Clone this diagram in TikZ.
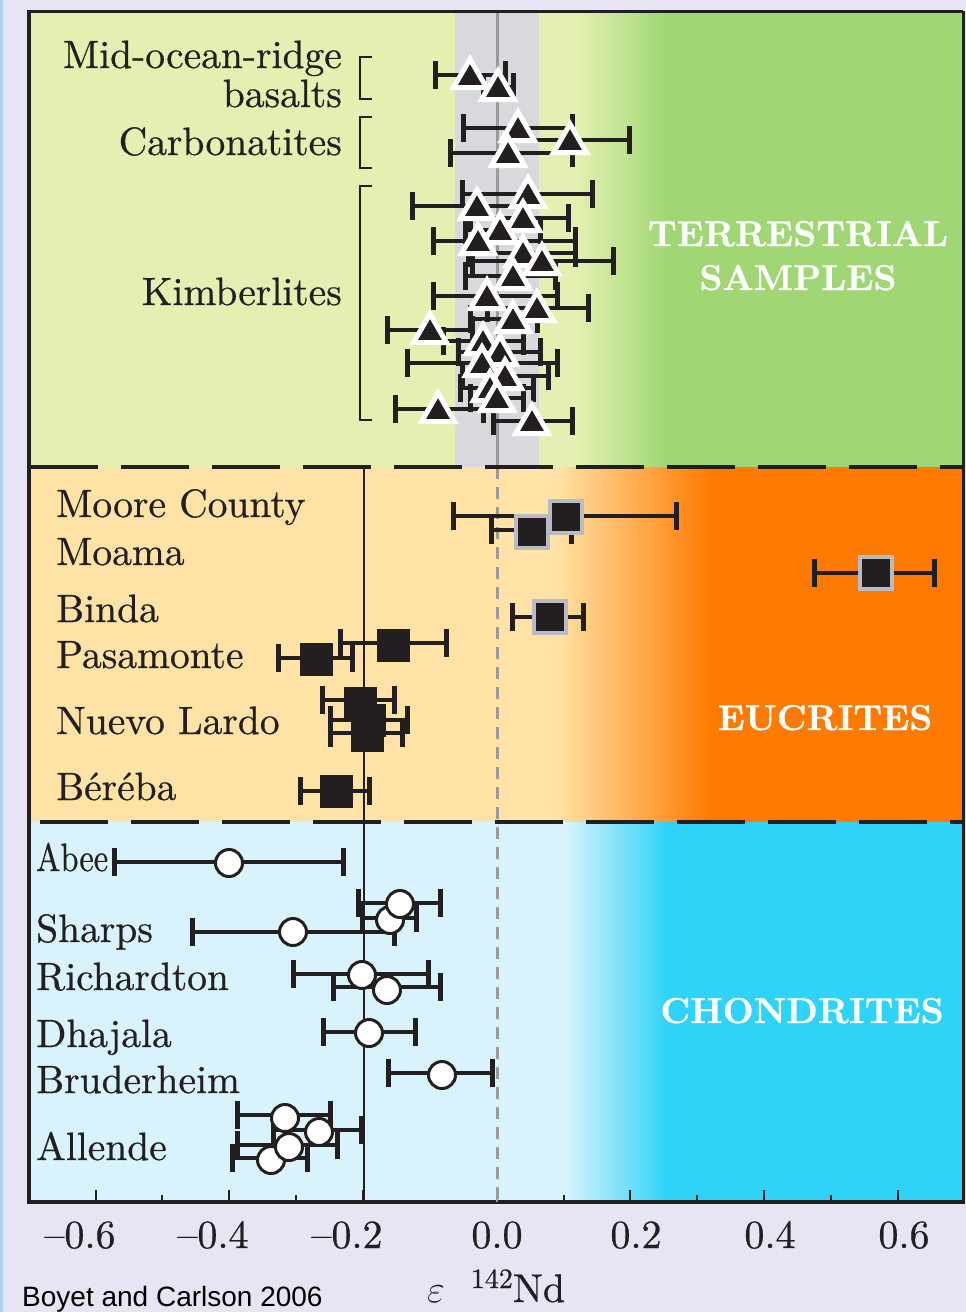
\documentclass[tikz,border=0pt]{standalone}
\usepackage{fontspec}
\newfontfamily\credfont{Liberation Sans}
\newfontfamily\lmh{lmroman10-regular.otf}[FakeBold=0.6,Ligatures=TeX]
\newfontfamily\lmb{lmroman10-bold.otf}[FakeBold=0.6,Ligatures=TeX]
\usetikzlibrary{shapes.geometric}
\definecolor{bgl}{HTML}{E7E5F3}
\definecolor{edgeblue}{HTML}{A9D3F5}
\definecolor{ink}{HTML}{231F20}
\definecolor{tlight}{HTML}{E3F0B1}
\definecolor{tdark}{HTML}{A0D774}
\definecolor{elight}{HTML}{FFE3A6}
\definecolor{edark}{HTML}{FF7A00}
\definecolor{clight}{HTML}{D9F3FD}
\definecolor{cdark}{HTML}{2FD3F7}
\definecolor{band}{HTML}{D8D9DC}
\definecolor{zline}{HTML}{9A9A9A}
\definecolor{sqborder}{HTML}{B8BCC2}
\begin{document}
\begin{tikzpicture}[x=1pt,y=-1pt,
  barst/.style={line width=4.5pt, ink},
  capst/.style={line width=5pt, ink},
  tri/.style={regular polygon, regular polygon sides=3, minimum size=38pt, inner sep=0pt, fill=ink, draw=white, line width=5pt},
  gsq/.style={rectangle, minimum size=32pt, inner sep=0pt, fill=ink, draw=sqborder, line width=4pt},
  bsq/.style={rectangle, minimum size=33pt, inner sep=0pt, fill=ink},
  circ/.style={circle, minimum size=27pt, inner sep=0pt, fill=white, draw=ink, line width=3pt},
  lab/.style={inner sep=0pt, text=ink, font=\lmh\fontsize{39.5}{42}\selectfont},
  big/.style={inner sep=0pt, text=white, font=\lmb\fontsize{36}{38}\selectfont},
  ticklab/.style={inner sep=0pt, text=ink, font=\lmh\fontsize{40}{42}\selectfont, anchor=base},
  bnd/.style={line width=4pt, ink, dash pattern=on 68pt off 23pt}
]
\useasboundingbox (0,0) rectangle (966,1312);
\fill[bgl] (0,0) rectangle (966,1312);
\fill[edgeblue] (0,0) rectangle (3,1312);

% terrestrial region
\fill[tlight] (29,11) rectangle (578,467);
\shade[left color=tlight, right color=tdark] (577,11) rectangle (666,467);
\fill[tdark] (665,11) rectangle (963,467);
\fill[band] (455,11) rectangle (539,467);
\draw[zline, line width=3pt] (497,11) -- (497,467);

% eucrites region
\fill[elight] (29,467) rectangle (556,822);
\shade[left color=elight, right color=edark] (555,467) rectangle (712,822);
\fill[edark] (711,467) rectangle (963,822);

% chondrites region
\fill[clight] (29,822) rectangle (566,1202);
\shade[left color=clight, right color=cdark] (565,822) rectangle (667,1202);
\fill[cdark] (666,822) rectangle (963,1202);

% reference lines
\draw[zline, line width=3pt, dash pattern=on 12pt off 8pt] (497,467) -- (497,1202);
\draw[ink, line width=2.5pt] (364,467) -- (364,1202);

% boundaries
\draw[bnd] (30,467) -- (963,467);
\draw[bnd] (40,822) -- (963,822);

% frame
\draw[ink, line width=3pt] (29,11) -- (963,11);
\draw[ink, line width=3pt] (963,11) -- (963,1202);
\draw[ink, line width=4pt] (29,9.5) -- (29,1204);
\draw[ink, line width=4pt] (27,1202) -- (965,1202);

% ticks
\foreach \x in {96,229,363,630,764,898} \draw[ink, line width=2.5pt] (\x,1202) -- (\x,1190);
\draw[zline, line width=2.5pt] (497,1202) -- (497,1190);
\foreach \x in {162,296,564,697,831} \draw[ink, line width=2pt] (\x,1202) -- (\x,1195);

% tick labels
\foreach \x/\t in {80/{–0.6},213/{–0.4},347/{–0.2},497/{0.0},636/{0.2},770/{0.4},904/{0.6}}
  \node[ticklab] (tl\x) at (\x,1248) {\t};

% axis title
\node[inner sep=0pt, anchor=base west, text=ink, font=\lmh\fontsize{40}{42}\selectfont] (axt) at (427,1302) {\scalebox{1.55}{$\varepsilon$}\hspace{26pt}\raisebox{14pt}{\fontsize{28}{30}\selectfont 142}Nd};
\node[inner sep=0pt, anchor=base west, text=black, font=\credfont\fontsize{28}{30}\selectfont] (cred) at (22,1306) {Boyet and Carlson 2006};

% terrestrial labels
\node[lab, anchor=base east] (morb1) at (342,68) {Mid-ocean-ridge};
\node[lab, anchor=base east] (morb2) at (342,107) {basalts};
\node[lab, anchor=base east] (carb) at (342,155) {Carbonatites};
\node[lab, anchor=base east] (kimb) at (342,305) {Kimberlites};
\draw[ink, line width=2.5pt] (372,57) -- (360,57) -- (360,99) -- (372,99);
\draw[ink, line width=2.5pt] (372,117) -- (360,117) -- (360,168) -- (372,168);
\draw[ink, line width=2.5pt] (372,186) -- (360,186) -- (360,420) -- (372,420);

\node[big, anchor=base] (ts1) at (798,246) {TERRESTRIAL};
\node[big, anchor=base] (ts2) at (798,290) {SAMPLES};
\node[big, anchor=base] (euc) at (825,730) {EUCRITES};
\node[big, anchor=base] (cho) at (802,1023) {CHONDRITES};

% eucrite labels
\node[lab, anchor=base west] (l1) at (56,517) {Moore County};
\node[lab, anchor=base west] (l2) at (56,565) {Moama};
\node[lab, anchor=base west] (l3) at (56,622) {Binda};
\node[lab, anchor=base west] (l4) at (56,668) {Pasamonte};
\node[lab, anchor=base west] (l5) at (56,734) {Nuevo Lardo};
\node[lab, anchor=base west] (l6) at (56,800) {Béréba};

% chondrite labels
\node[lab, anchor=base west] (c1) at (36,871) {\scalebox{0.82}[1]{Abee}};
\node[lab, anchor=base west] (c2) at (36,942) {Sharps};
\node[lab, anchor=base west] (c3) at (36,990) {Richardton};
\node[lab, anchor=base west] (c4) at (36,1047) {Dhajala};
\node[lab, anchor=base west] (c5) at (36,1093) {Bruderheim};
\node[lab, anchor=base west] (c6) at (36,1160) {Allende};

% terrestrial error bars
\foreach \cx/\cy/\l/\r in {
 470/75/435/505, 498/87/483/513,
 518/128/463/572, 570/140/512/629, 508/153/450/572,
 528/194/462/592, 477/206/412/520, 523/218/470/568, 500/230/465/540,
 478/241/433/575, 523/253/468/575, 542/261/472/613, 513/276/465/555,
 487/296/433/557, 537/308/487/588, 513/319/470/537, 430/330/387/472,
 483/341/443/523, 500/352/458/540, 482/363/407/557, 505/376/462/548,
 490/388/460/533, 497/398/470/523, 438/409/395/483, 532/421/493/572}{
  \draw[barst] (\l,\cy) -- (\r,\cy);
  \draw[capst] (\l,\cy-14) -- (\l,\cy+14);
  \draw[capst] (\r,\cy-14) -- (\r,\cy+14);
}
\foreach \cx/\cy [count=\i] in {
 470/75, 498/87, 518/128, 570/140, 508/153,
 528/194, 477/206, 523/218, 500/230, 478/241, 523/253, 542/261, 513/276,
 487/296, 537/308, 513/319, 430/330, 483/341, 500/352, 482/363, 505/376,
 490/388, 497/398, 438/409, 532/421}{
  \node[tri] (t\i) at (\cx,\cy+3) {};
}

% eucrite error bars
\foreach \cy/\l/\r in {530/491/571, 516/453/676, 573/814/934, 617/512/583,
 643/340/446, 658/278/352, 700/322/394, 720/330/407, 733/330/402, 791/300/369}{
  \draw[barst] (\l,\cy) -- (\r,\cy);
  \draw[capst] (\l,\cy-14) -- (\l,\cy+14);
  \draw[capst] (\r,\cy-14) -- (\r,\cy+14);
}
\node[gsq] (moama) at (532,532) {};
\node[gsq] (moore) at (566,517) {};
\node[gsq] (outl) at (876,573) {};
\node[gsq] (binda) at (550,617) {};
\node[bsq] (pas1) at (393,645) {};
\node[bsq] (pas2) at (316,659) {};
\node[bsq] (nl1) at (360,703) {};
\node[bsq] (nl2) at (369,720) {};
\node[bsq] (nl3) at (367,735) {};
\node[bsq] (bere) at (336,791) {};

% chondrite error bars
\foreach \cy/\l/\r in {862/114/343, 903/358/440, 918/362/416, 932/192/394,
 974/293/428, 987/333/440, 1032/323/415, 1073/388/492,
 1115/237/330, 1130/273/361, 1145/237/337, 1158/232/307}{
  \draw[barst] (\l,\cy) -- (\r,\cy);
  \draw[capst] (\l,\cy-14) -- (\l,\cy+14);
  \draw[capst] (\r,\cy-14) -- (\r,\cy+14);
}
\foreach \cx/\cy [count=\i] in {271/1160, 289/1147, 319/1132, 285/1118,
 442/1075, 369/1033, 362/975, 387/990, 293/932, 390/920, 400/904, 229/863}{
  \node[circ] (ch\i) at (\cx,\cy) {};
}
\end{tikzpicture}
\end{document}
